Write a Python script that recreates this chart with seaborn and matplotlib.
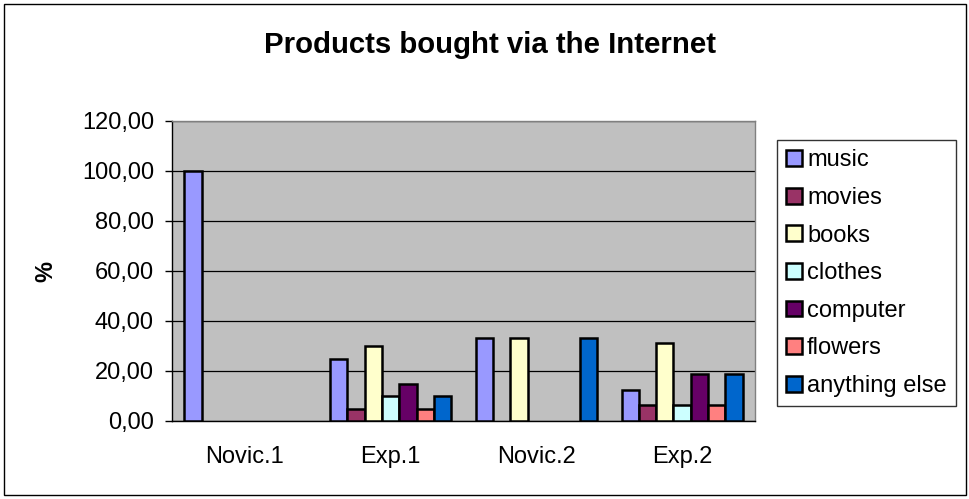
import matplotlib
matplotlib.use("Agg")
import matplotlib.pyplot as plt
import seaborn as sns
import pandas as pd
from matplotlib.patches import Rectangle, Patch
from matplotlib.ticker import FuncFormatter, MultipleLocator, FixedLocator

groups = ["Novic.1", "Exp.1", "Novic.2", "Exp.2"]
products = ["music", "movies", "books", "clothes", "computer", "flowers", "anything else"]
music = [100.0, 25.0, 33.33, 12.5]
movies = [0.0, 5.0, 0.0, 6.25]
books = [0.0, 30.0, 33.33, 31.25]
clothes = [0.0, 10.0, 0.0, 6.25]
computer = [0.0, 15.0, 0.0, 18.75]
flowers = [0.0, 5.0, 0.0, 6.25]
anything_else = [0.0, 10.0, 33.33, 18.75]
colors = ["#9999FF", "#993366", "#FFFFCC", "#CCFFFF", "#660066", "#FF8080", "#0066CC"]

series = [music, movies, books, clothes, computer, flowers, anything_else]
rows = []
for p, vals in zip(products, series):
    for g, v in zip(groups, vals):
        rows.append({"group": g, "product": p, "value": v})
df = pd.DataFrame(rows)

sns.set_style("white")
plt.rcParams["font.family"] = ["Liberation Sans", "DejaVu Sans"]
plt.rcParams["text.color"] = "black"
plt.rcParams["axes.labelcolor"] = "black"
plt.rcParams["xtick.color"] = "black"
plt.rcParams["ytick.color"] = "black"

fig = plt.figure(figsize=(9.7, 4.99), dpi=100)
ax = fig.add_axes([172 / 970, 1 - 421 / 499, 583 / 970, 300 / 499])

sns.barplot(data=df, x="group", y="value", hue="product", order=groups,
            hue_order=products, palette=colors, width=0.83, gap=0,
            edgecolor="black", linewidth=1.8, saturation=1, ax=ax,
            legend=False, errorbar=None, zorder=3)

for patch in ax.patches:
    if patch.get_height() == 0:
        patch.set_visible(False)

ax.set_facecolor("#C0C0C0")
ax.set_ylim(0, 120)
ax.set_xlim(-0.5, 3.5)
ax.yaxis.set_major_locator(MultipleLocator(20))
ax.yaxis.set_major_formatter(FuncFormatter(lambda v, p: f"{v:.2f}".replace(".", ",")))
ax.grid(axis="y", color="black", linewidth=0.9, zorder=0)
ax.set_axisbelow(True)
ax.xaxis.set_minor_locator(FixedLocator([-0.5, 0.5, 1.5, 2.5, 3.5]))
ax.tick_params(axis="x", which="major", length=0, pad=18, labelsize=17, labelcolor="black")
ax.tick_params(axis="x", which="minor", length=5, width=1, color="black", direction="out")
ax.tick_params(axis="y", which="major", length=5, width=1, color="black", direction="out",
               pad=8, labelsize=17, left=True, labelcolor="black")
ax.set_xlabel("")
ax.set_ylabel("%", fontsize=17, fontweight="bold", labelpad=18, color="black")
ax.yaxis.set_label_coords(-(172 - 57) / 583, 0.5)
for s in ["left", "bottom"]:
    ax.spines[s].set_color("black")
    ax.spines[s].set_linewidth(1)
for s in ["top", "right"]:
    ax.spines[s].set_color("#808080")
    ax.spines[s].set_linewidth(1)

fig.text(490 / 970, 1 - 45 / 499, "Products bought via the Internet", ha="center",
         va="center", fontsize=21.2, fontweight="bold", color="black")

handles = [Patch(facecolor=c, edgecolor="black", linewidth=1.8) for c in colors]
leg = fig.legend(handles, products, loc="upper left",
                 bbox_to_anchor=(777 / 970, 1 - 140 / 499), fontsize=17,
                 frameon=True, fancybox=False, edgecolor="black",
                 handlelength=0.65, handleheight=0.65, handletextpad=0.22,
                 labelspacing=0.66, borderpad=0.4, borderaxespad=0)
leg.get_frame().set_linewidth(1)
for t in leg.get_texts():
    t.set_color("black")

fig.patches.append(Rectangle((4 / 970, 4 / 499), 962 / 970, 491 / 499,
                             transform=fig.transFigure, fill=False,
                             edgecolor="black", linewidth=1))

fig.savefig("out.png", dpi=100)
